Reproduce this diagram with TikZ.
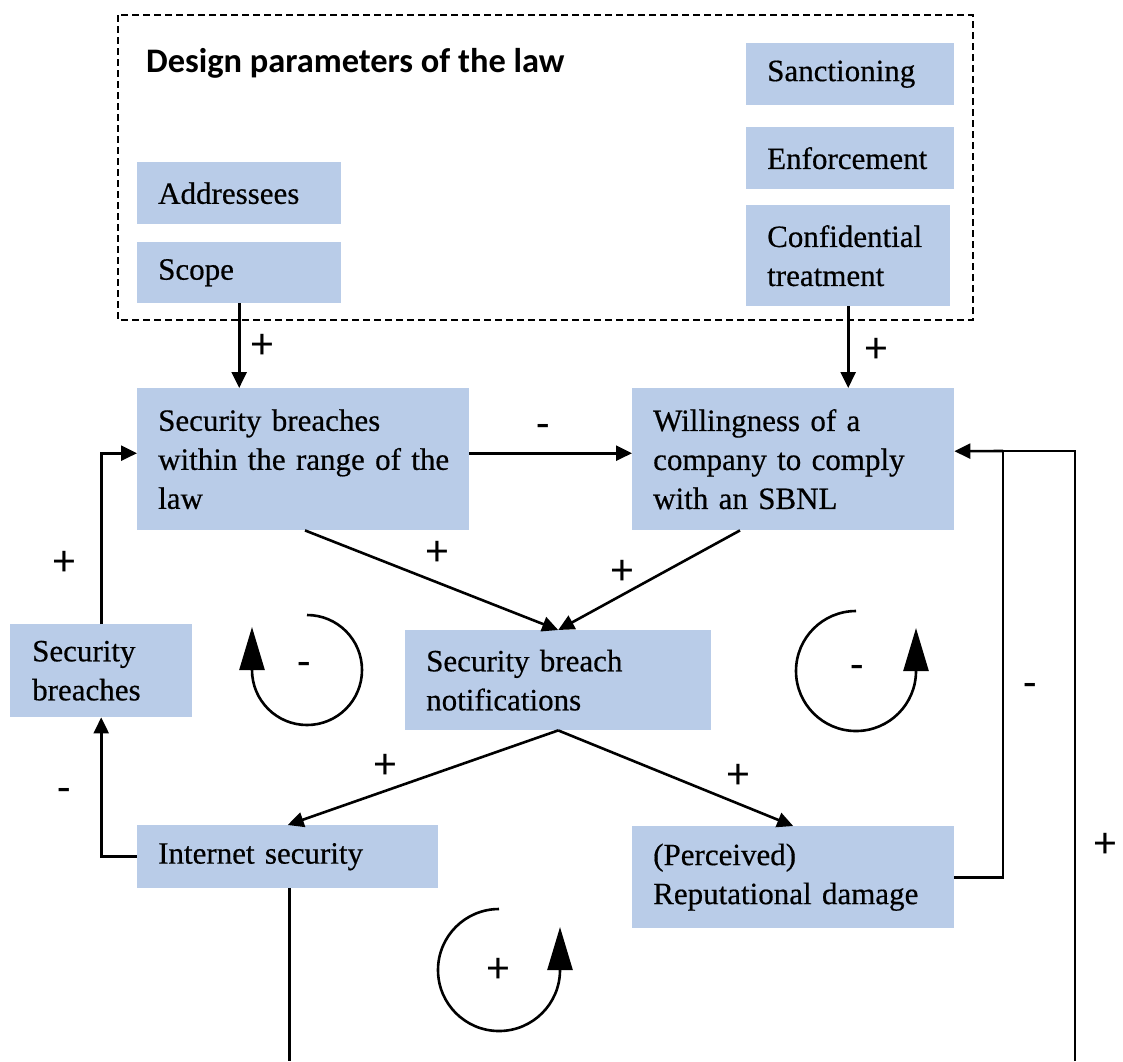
\documentclass[tikz,border=0pt]{standalone}
\usepackage{fontspec}
\newfontfamily\calibri{Carlito}
\newfontfamily\bodyfont{Liberation Serif}[FakeBold=0.5]
\usetikzlibrary{arrows.meta}
\definecolor{boxblue}{RGB}{185,204,232}

\begin{document}
\begin{tikzpicture}[x=1pt,y=-1pt,
  box/.style={fill=boxblue, anchor=north west, inner xsep=21pt, inner ysep=0pt,
    align=left, font=\bodyfont\fontsize{31}{39}\selectfont},
  link/.style={line width=2.6pt, -{Triangle[length=16pt,width=15pt]}},
  wire/.style={line width=2.6pt},
  loopline/.style={line width=2.6pt, -{Triangle[length=43pt,width=25pt]}},
  sign/.style={font=\calibri\fontsize{44}{44}\selectfont, inner sep=0pt}
]
\useasboundingbox (0,0) rectangle (1123,1061);

% frame around the design parameters
\draw[line width=1.2pt, dash pattern=on 7pt off 4pt] (118,15) rectangle (973,320);
\node[anchor=base west, inner sep=0pt, font=\calibri\bfseries\fontsize{34.4}{34.4}\selectfont]
  (title) at (146,72) {Design parameters of the law};

% parameter boxes
\node[box, text width=162pt, minimum height=62pt] (addr) at (137,162) {Addressees};
\node[box, text width=162pt, minimum height=61pt] (scope) at (137,242) {Scope};
\node[box, text width=166pt, minimum height=62pt] (sanc) at (746,43) {Sanctioning};
\node[box, text width=166pt, minimum height=62pt] (enf) at (746,127) {Enforcement};
\node[box, text width=162pt, minimum height=101pt] (conf) at (746,205)
  {\mbox{Confidential}\\treatment};

% model variables
\node[box, text width=290pt, minimum height=142pt] (sbr) at (137,388)
  {\mbox{Security breaches}\\\mbox{within the range of the}\\law};
\node[box, text width=280pt, minimum height=142pt] (will) at (632,388)
  {\mbox{Willingness of a}\\\mbox{company to comply}\\\mbox{with an SBNL}};
\node[box, text width=264pt, minimum height=100pt] (notif) at (405,630)
  {\mbox{Security breach}\\notifications};
\node[box, inner xsep=22pt, text width=138pt, minimum height=93pt] (sb) at (10,624)
  {Security\\breaches};
\node[box, text width=259pt, minimum height=63pt] (isec) at (137,825)
  {\mbox{Internet security}};
\node[box, text width=280pt, minimum height=102pt] (rep) at (632,826)
  {(Perceived)\\\mbox{Reputational damage}};

% causal links
\draw[link] (scope.south) -- (scope.south |- sbr.north);
\draw[link] (conf.south) -- (conf.south |- will.north);
\draw[link] ([yshift=6pt]sbr.east) -- ([yshift=6pt]sbr.east -| will.west);
\draw[link] ([xshift=168pt]sbr.south west) -- (notif.north);
\draw[link] ([xshift=108pt]will.south west) -- (notif.north);
\draw[link] (notif.south) -- (isec.north);
\draw[link] (notif.south) -- (rep.north);
\draw[link] (isec.west) -| (sb.south);
\draw[link] (sb.north) |- ([yshift=6pt]sbr.west);

\coordinate (rj) at (1003,451);
\coordinate (isecout) at (290,1061);
\coordinate (outer) at (1075,1061);
\draw[wire] (rep.east) -| (rj);
\draw[link] (rj) -- ([yshift=8pt]will.east);
\draw[wire] ([xshift=2pt]isec.south) -- ([xshift=2pt]isec.south |- isecout);
\draw[wire] (outer) |- (rj);

% polarity signs
\node[sign] (s1) at (262,346) {+};
\node[sign] (s2) at (876,350) {+};
\node[sign] (s3) at (543,431) {-};
\node[sign] (s4) at (437,553) {+};
\node[sign] (s5) at (622,572) {+};
\node[sign] (s6) at (64,563) {+};
\node[sign] (s7) at (64,795) {-};
\node[sign] (s8) at (385,766) {+};
\node[sign] (s9) at (738,776) {+};
\node[sign] (s10) at (1030,690) {-};
\node[sign] (s11) at (1105,845) {+};

% loop markers
\draw[loopline] (307,615) arc[start angle=-90, end angle=180, radius=55] -- ++(0,-43);
\node[sign] (l1) at (304,669) {-};
\draw[loopline] (856,611) arc[start angle=-90, end angle=-360, radius=60] -- ++(0,-43);
\node[sign] (l2) at (857,672) {-};
\draw[loopline] (499,909) arc[start angle=-90, end angle=-360, radius=61] -- ++(0,-43);
\node[sign] (l3) at (498,970) {+};
\end{tikzpicture}
\end{document}
